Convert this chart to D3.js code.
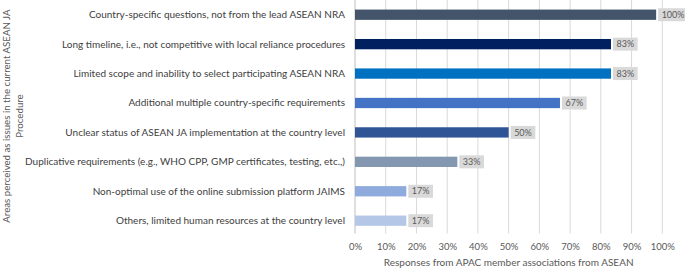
<!DOCTYPE html>
<html>
<head>
<meta charset="utf-8">
<script src="https://cdn.jsdelivr.net/npm/d3@7"></script>
<style>
  body { margin: 0; background: #fff; }
  text { font-family: "Lato", "Liberation Sans", sans-serif; }
</style>
</head>
<body>
<div id="chart"></div>
<script>
var categories = [
  "Country-specific questions, not from the lead ASEAN NRA",
  "Long timeline, i.e., not competitive with local reliance procedures",
  "Limited scope and inability to select participating ASEAN NRA",
  "Additional multiple country-specific requirements",
  "Unclear status of ASEAN JA implementation at the country level",
  "Duplicative requirements (e.g., WHO CPP, GMP certificates, testing, etc.,)",
  "Non-optimal use of the online submission platform JAIMS",
  "Others, limited human resources at the country level"
];
// bar lengths as drawn (percent) and the labels printed next to them
var shares = [98, 83.3, 83.3, 66.7, 50, 33.3, 16.7, 16.7];
var shareLabels = ["100%", "83%", "83%", "67%", "50%", "33%", "17%", "17%"];
var barColors = ["#44546a", "#002060", "#0070c0", "#4472c4", "#2f5597", "#8497b0", "#8faadc", "#b4c7e7"];
var xTicks = [0, 10, 20, 30, 40, 50, 60, 70, 80, 90, 100];

var width = 685, height = 269;
var plotTop = 0, plotBottom = 233.5;

var svg = d3.select("#chart")
  .append("svg")
    .attr("width", width)
    .attr("height", height);

var x = d3.scaleLinear()
    .domain([0, 100])
    .range([355, 662.3]);

var y = d3.scaleBand()
    .domain(categories)
    .range([0, 235.4])
    .paddingInner(0.65)
    .paddingOuter(0.325);

// gridlines
svg.append("g")
  .selectAll("line")
  .data(xTicks.slice(1))
  .enter()
  .append("line")
    .attr("x1", function (d) { return x(d); })
    .attr("x2", function (d) { return x(d); })
    .attr("y1", plotTop)
    .attr("y2", plotBottom)
    .attr("stroke", "#d9d9d9")
    .attr("stroke-width", 1);

// category axis line
svg.append("line")
  .attr("x1", x(0)).attr("x2", x(0))
  .attr("y1", plotTop).attr("y2", plotBottom)
  .attr("stroke", "#bfbfbf");

// x axis tick labels
var xAxis = svg.append("g")
  .attr("transform", "translate(0," + plotBottom + ")")
  .call(d3.axisBottom(x).tickValues(xTicks).tickSize(0).tickPadding(10)
    .tickFormat(function (d) { return d + "%"; }));
xAxis.select(".domain").remove();
xAxis.selectAll("text")
  .attr("fill", "#595959")
  .style("font-size", "9.5px")
  .style("font-family", "Lato, 'Liberation Sans', sans-serif");

// category labels
svg.append("g")
  .selectAll("text")
  .data(categories)
  .enter()
  .append("text")
    .attr("x", 345)
    .attr("y", function (d) { return y(d) + y.bandwidth() / 2; })
    .attr("dy", "0.35em")
    .attr("text-anchor", "end")
    .attr("fill", "#404040")
    .style("font-size", "10px")
    .text(function (d) { return d; });

// bars
svg.append("g")
  .selectAll("rect")
  .data(categories)
  .enter()
  .append("rect")
    .attr("x", x(0))
    .attr("y", function (d) { return y(d); })
    .attr("width", function (d, i) { return x(shares[i]) - x(0); })
    .attr("height", y.bandwidth())
    .attr("fill", function (d, i) { return barColors[i]; });

// data labels with grey boxes
var lab = svg.append("g")
  .selectAll("g")
  .data(categories)
  .enter()
  .append("g")
    .attr("transform", function (d, i) {
      return "translate(" + (x(shares[i]) + 2) + "," + (y(d) + y.bandwidth() / 2) + ")";
    });

lab.append("text")
  .attr("x", 3.5)
  .attr("dy", "0.35em")
  .attr("fill", "#595959")
  .style("font-size", "9px")
  .text(function (d, i) { return shareLabels[i]; });

lab.insert("rect", "text")
  .attr("x", 0)
  .attr("y", -6.5)
  .attr("height", 13)
  .attr("width", function () {
    return this.parentNode.querySelector("text").getComputedTextLength() + 7;
  })
  .attr("fill", "#d9d9d9");

// axis titles
svg.append("text")
  .attr("x", x(50))
  .attr("y", 266)
  .attr("text-anchor", "middle")
  .attr("fill", "#595959")
  .style("font-size", "10px")
  .text("Responses from APAC member associations from ASEAN");

var yTitle = svg.append("text")
  .attr("transform", "rotate(-90)")
  .attr("text-anchor", "middle")
  .attr("fill", "#595959")
  .style("font-size", "9.7px");
yTitle.append("tspan")
  .attr("x", -116)
  .attr("y", 10)
  .text("Areas perceived as issues in the current ASEAN JA");
yTitle.append("tspan")
  .attr("x", -116)
  .attr("y", 23)
  .text("Procedure");
</script>
</body>
</html>
